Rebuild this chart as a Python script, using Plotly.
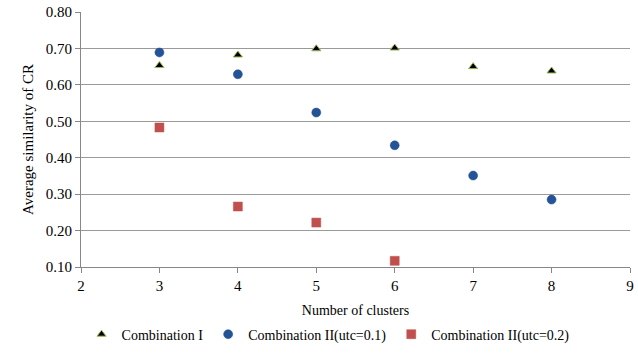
import plotly.graph_objects as go

clusters_i = [3, 4, 5, 6, 7, 8]
comb_i = [0.653, 0.682, 0.699, 0.701, 0.650, 0.638]
clusters_ii1 = [3, 4, 5, 6, 7, 8]
comb_ii_01 = [0.689, 0.629, 0.524, 0.434, 0.351, 0.285]
clusters_ii2 = [3, 4, 5, 6]
comb_ii_02 = [0.483, 0.266, 0.222, 0.117]

names = ["Combination I", "Combination II(utc=0.1)", "Combination II(utc=0.2)"]
y_ticks = [0.1, 0.2, 0.3, 0.4, 0.5, 0.6, 0.7, 0.8]
x_ticks = [2, 3, 4, 5, 6, 7, 8, 9]

font_family = "Liberation Serif, Times New Roman, serif"

fig = go.Figure()
fig.add_trace(go.Scatter(
    x=clusters_i, y=comb_i, mode="markers", name=names[0],
    marker=dict(symbol="triangle-up", size=8, color="black",
                line=dict(color="#9BBB59", width=1))))
fig.add_trace(go.Scatter(
    x=clusters_ii1, y=comb_ii_01, mode="markers", name=names[1],
    marker=dict(symbol="circle", size=9, color="#245497",
                line=dict(color="#1F4E8C", width=0.5))))
fig.add_trace(go.Scatter(
    x=clusters_ii2, y=comb_ii_02, mode="markers", name=names[2],
    marker=dict(symbol="square", size=9, color="#C0504D",
                line=dict(color="#C0504D", width=0.5))))

fig.update_layout(
    width=638, height=355,
    margin=dict(l=81, r=4, t=10, b=84),
    paper_bgcolor="white", plot_bgcolor="white",
    font=dict(family=font_family, size=15, color="black"),
    showlegend=True,
    legend=dict(orientation="h", x=0.45, xanchor="center", y=-0.265, yanchor="middle",
                font=dict(size=14), itemwidth=30, traceorder="normal"),
    xaxis=dict(range=[2, 9], tickvals=x_ticks, ticktext=[str(v) for v in x_ticks],
               showgrid=False, zeroline=False, showline=True, linecolor="#888888",
               linewidth=1, ticks="outside", ticklen=5, tickcolor="#888888",
               tickfont=dict(size=15),
               title=dict(text="Number of clusters", standoff=12, font=dict(size=14))),
    yaxis=dict(range=[0.1, 0.8], tickvals=y_ticks, ticktext=[f"{v:.2f}" for v in y_ticks],
               showgrid=True, gridcolor="#9a9a9a", gridwidth=1, zeroline=False,
               showline=True, linecolor="#888888", linewidth=1, ticks="outside",
               ticklen=5, tickcolor="#888888", tickfont=dict(size=15),
               title=dict(text="Average similarity of CR", standoff=8, font=dict(size=15))),
)

fig.write_html("out.html")
